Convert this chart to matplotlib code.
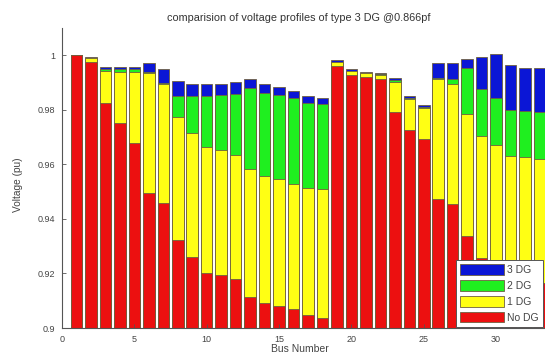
import matplotlib
matplotlib.use("Agg")
import matplotlib.pyplot as plt

plt.rcParams['font.family'] = ['Liberation Sans', 'DejaVu Sans']

# bus numbers of the 33-bus feeder
bus = list(range(1, 34))

# voltage (pu), one value per bus
no_dg = [1.0, 0.9975, 0.9826, 0.9753, 0.9677, 0.9496, 0.946, 0.9321, 0.926, 0.9202,
         0.9196, 0.9178, 0.9114, 0.9092, 0.908, 0.9068, 0.9047, 0.9037, 0.9961, 0.9927,
         0.992, 0.9914, 0.9793, 0.9726, 0.9692, 0.9472, 0.9453, 0.9337, 0.9255, 0.922,
         0.918, 0.917, 0.9166]
one_dg = [1.0, 0.999, 0.9942, 0.994, 0.994, 0.9936, 0.9896, 0.9773, 0.9716, 0.9664,
          0.9651, 0.9634, 0.9582, 0.9557, 0.9545, 0.9529, 0.9514, 0.9508, 0.9975, 0.9942,
          0.9934, 0.9928, 0.9903, 0.984, 0.9805, 0.9912, 0.9894, 0.9784, 0.9704, 0.9671,
          0.963, 0.9627, 0.9618]
two_dg = [1.0, 0.999, 0.9948, 0.9948, 0.9948, 0.994, 0.9898, 0.985, 0.9851, 0.9851,
          0.9854, 0.9857, 0.9881, 0.9863, 0.9854, 0.9842, 0.9824, 0.982, 0.9977, 0.9944,
          0.9936, 0.993, 0.9908, 0.9844, 0.9809, 0.9915, 0.9912, 0.9955, 0.9875, 0.9842,
          0.9798, 0.9796, 0.9793]
three_dg = [1.0, 0.9992, 0.9957, 0.9957, 0.9958, 0.9973, 0.9951, 0.9906, 0.9896, 0.9894,
            0.9894, 0.9902, 0.9914, 0.9894, 0.9884, 0.9869, 0.9851, 0.9842, 0.9984, 0.9949,
            0.994, 0.9934, 0.9918, 0.9852, 0.9816, 0.9973, 0.9973, 0.9985, 0.9995, 1.0004,
            0.9964, 0.9955, 0.9955]

yticks = [0.9, 0.92, 0.94, 0.96, 0.98, 1.0]
ytick_labels = ['0.9', '0.92', '0.94', '0.96', '0.98', '1']
xticks = [0, 5, 10, 15, 20, 25, 30]

W, H = 545, 357
fig = plt.figure(figsize=(W / 100, H / 100), dpi=100)
fig.patch.set_facecolor('white')
# axes runs off the right edge of the picture, like the cropped original
ax = fig.add_axes([62 / W, (H - 328) / H, 492 / W, 300 / H])

edge = '#6e6040'
base = 0.9
# overlapping bars: tallest series first, each drawn from the bottom
series = [
    (three_dg, '#0b16d6', '3 DG'),
    (two_dg, '#1fef1f', '2 DG'),
    (one_dg, '#ffff14', '1 DG'),
    (no_dg, '#ec1010', 'No DG'),
]
handles = []
for vals, col, lab in series:
    h = ax.bar(bus, [v - base for v in vals], bottom=base, width=0.8,
               color=col, edgecolor=edge, linewidth=0.6, label=lab)
    handles.append(h)

ax.set_xlim(0, 34)
ax.set_ylim(0.9, 1.01)
ax.set_yticks(yticks)
ax.set_yticklabels(ytick_labels)
ax.set_xticks(xticks)
for s in ['top', 'right']:
    ax.spines[s].set_visible(False)
for s in ['left', 'bottom']:
    ax.spines[s].set_color('#555555')
    ax.spines[s].set_linewidth(0.8)
ax.tick_params(direction='in', length=3, width=0.6, colors='#555555',
               labelsize=6.5, labelcolor='#444444', pad=5)

leg = ax.legend(handles=handles, loc='lower right',
                bbox_to_anchor=(543 / W, (H - 327) / H), bbox_transform=fig.transFigure,
                borderaxespad=0, fontsize=7.5, handlelength=4.2, handleheight=1.15,
                labelspacing=0.5, handletextpad=0.3, borderpad=0.4,
                fancybox=False, framealpha=1)
leg.get_frame().set_edgecolor('#555555')
leg.get_frame().set_linewidth(0.7)
for t in leg.get_texts():
    t.set_color('#444444')

fig.text(299 / W, 1 - 18 / H, 'comparision of voltage profiles of type 3 DG @0.866pf',
         ha='center', va='center', fontsize=7.8, color='#333333')
fig.text(300 / W, 1 - 349 / H, 'Bus Number', ha='center', va='center',
         fontsize=7.5, color='#444444')
fig.text(18 / W, 1 - 185 / H, 'Voltage (pu)', ha='center', va='center',
         rotation=90, fontsize=7.3, color='#444444')

fig.savefig('out.png', dpi=100)
